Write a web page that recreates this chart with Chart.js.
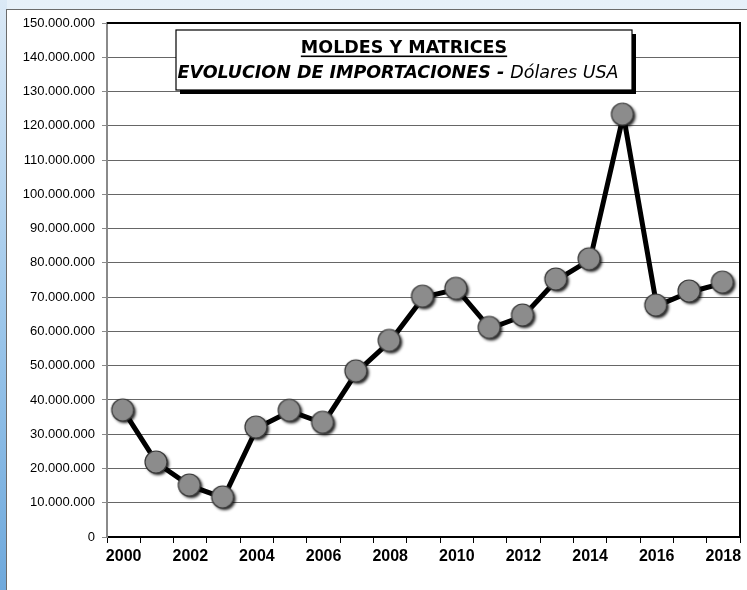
<!DOCTYPE html>
<html lang="es">
<head>
    <meta charset="UTF-8">
    <title>Moldes y matrices</title>
    <script src="https://cdn.jsdelivr.net/npm/chart.js"></script>
    <style>
        html, body { margin: 0; padding: 0; }
        body {
            width: 747px; height: 590px; overflow: hidden; position: relative;
            background: linear-gradient(180deg, #e6f0f9 0%, #f3f8fc 40%, #ffffff 100%);
        }
        .strip {
            position: absolute; left: 0; top: 0; width: 7px; height: 590px;
            background: linear-gradient(180deg, #dbe9f6 0%, #9cc6ea 55%, #6fa9dc 100%);
        }
        .panel {
            position: absolute; left: 6px; top: 9px; width: 745px; height: 585px;
            background: #fff; border: 1px solid #6b6b6b;
        }
        #grafico { position: absolute; left: 0; top: 0; }
    </style>
</head>
<body>
<div class="strip"></div>
<div class="panel"></div>
<canvas id="grafico" width="747" height="590"></canvas>
<script>
    // datos (dolares USA)
    const anios = ['2000','2001','2002','2003','2004','2005','2006','2007','2008','2009',
                   '2010','2011','2012','2013','2014','2015','2016','2017','2018'];
    const importaciones = [36800000, 21600000, 14900000, 11400000, 31800000, 36700000, 33200000,
                           48200000, 57100000, 70000000, 72300000, 60900000, 64500000, 75000000,
                           80900000, 123100000, 67400000, 71500000, 74100000];
    const ejeYMin = 0;
    const ejeYMax = 150000000;
    const ejeYPaso = 10000000;

    const titulo1 = 'MOLDES Y MATRICES';
    const titulo2a = 'EVOLUCION DE IMPORTACIONES - ';
    const titulo2b = 'Dólares USA';

    function puntos(v) {
        return String(v).replace(/\B(?=(\d{3})+(?!\d))/g, '.');
    }

    // marcador gris con sombra
    function marcador() {
        var c = document.createElement('canvas');
        c.width = 32; c.height = 32;
        var g = c.getContext('2d');
        g.shadowColor = 'rgba(0,0,0,0.9)';
        g.shadowBlur = 3;
        g.shadowOffsetX = 2;
        g.shadowOffsetY = 2;
        g.beginPath();
        g.arc(15, 15, 11, 0, Math.PI * 2);
        g.fillStyle = '#8c8c8c';
        g.fill();
        g.shadowColor = 'transparent';
        g.lineWidth = 1.2;
        g.strokeStyle = '#3a3a3a';
        g.stroke();
        return c;
    }

    const marco = {
        id: 'marco',
        beforeDatasetsDraw(chart) {
            var ctx = chart.ctx, a = chart.chartArea;
            ctx.save();
            ctx.strokeStyle = '#000';
            ctx.lineWidth = 2;
            ctx.beginPath();
            ctx.moveTo(a.left, a.top);
            ctx.lineTo(a.right, a.top);
            ctx.lineTo(a.right, a.bottom);
            ctx.stroke();
            ctx.restore();
        },
        afterDraw(chart) {
            var ctx = chart.ctx;
            var x = 176, y = 30, w = 456, h = 60;
            ctx.save();
            ctx.fillStyle = '#000';
            ctx.fillRect(x + 4, y + 4, w, h);
            ctx.fillStyle = '#fff';
            ctx.fillRect(x, y, w, h);
            ctx.strokeStyle = '#000';
            ctx.lineWidth = 1.2;
            ctx.strokeRect(x, y, w, h);

            var cx = x + w / 2;
            ctx.fillStyle = '#000';
            ctx.textBaseline = 'alphabetic';
            ctx.font = 'bold 17.5px "DejaVu Sans"';
            var w1 = ctx.measureText(titulo1).width;
            ctx.fillText(titulo1, cx - w1 / 2, 53);
            ctx.fillRect(cx - w1 / 2, 55.5, w1, 1.6);

            ctx.font = 'italic bold 17.5px "DejaVu Sans"';
            var wa = ctx.measureText(titulo2a).width;
            ctx.font = 'italic 17.5px "DejaVu Sans"';
            var wb = ctx.measureText(titulo2b).width;
            var x0 = cx - (wa + wb) / 2 - 6;
            ctx.font = 'italic bold 17.5px "DejaVu Sans"';
            ctx.fillText(titulo2a, x0, 78);
            ctx.font = 'italic 17.5px "DejaVu Sans"';
            ctx.fillText(titulo2b, x0 + wa, 78);
            ctx.restore();
        }
    };

    new Chart(document.getElementById('grafico'), {
        type: 'line',
        data: {
            labels: anios,
            datasets: [{
                label: 'Importaciones',
                data: importaciones,
                borderColor: '#000',
                borderWidth: 5,
                tension: 0,
                pointStyle: marcador(),
                pointRadius: 11,
                pointHoverRadius: 11
            }]
        },
        options: {
            responsive: false,
            devicePixelRatio: 1,
            animation: false,
            layout: {
                autoPadding: false,
                padding: { top: 23, right: 7, left: 0, bottom: 0 }
            },
            plugins: {
                legend: { display: false },
                tooltip: { enabled: false }
            },
            scales: {
                x: {
                    offset: true,
                    afterFit: function (s) {
                        s.height = 53;
                        s.paddingLeft = 0;
                        s.paddingRight = 0;
                    },
                    border: { color: '#000', width: 2 },
                    grid: {
                        offset: true,
                        drawOnChartArea: false,
                        drawTicks: true,
                        tickLength: 6,
                        tickColor: '#000',
                        lineWidth: 1
                    },
                    ticks: {
                        autoSkip: false,
                        maxRotation: 0,
                        padding: 4,
                        color: '#000',
                        font: { family: '"Liberation Sans", Arial', size: 16, weight: 'bold' },
                        callback: function (v, i) { return i % 2 === 0 ? anios[i] : ''; }
                    }
                },
                y: {
                    min: ejeYMin,
                    max: ejeYMax,
                    afterFit: function (s) {
                        s.width = 107;
                        s.paddingTop = 0;
                        s.paddingBottom = 0;
                    },
                    border: { color: '#8a8a8a', width: 2 },
                    grid: {
                        color: '#666',
                        lineWidth: 1,
                        borderDash: [1, 1],
                        drawTicks: true,
                        tickLength: 5,
                        tickColor: '#8a8a8a',
                        tickBorderDash: []
                    },
                    ticks: {
                        stepSize: ejeYPaso,
                        padding: 7,
                        color: '#000',
                        font: { family: '"Liberation Sans", Arial', size: 13 },
                        callback: function (v) { return puntos(v); }
                    }
                }
            }
        },
        plugins: [marco]
    });
</script>
</body>
</html>
